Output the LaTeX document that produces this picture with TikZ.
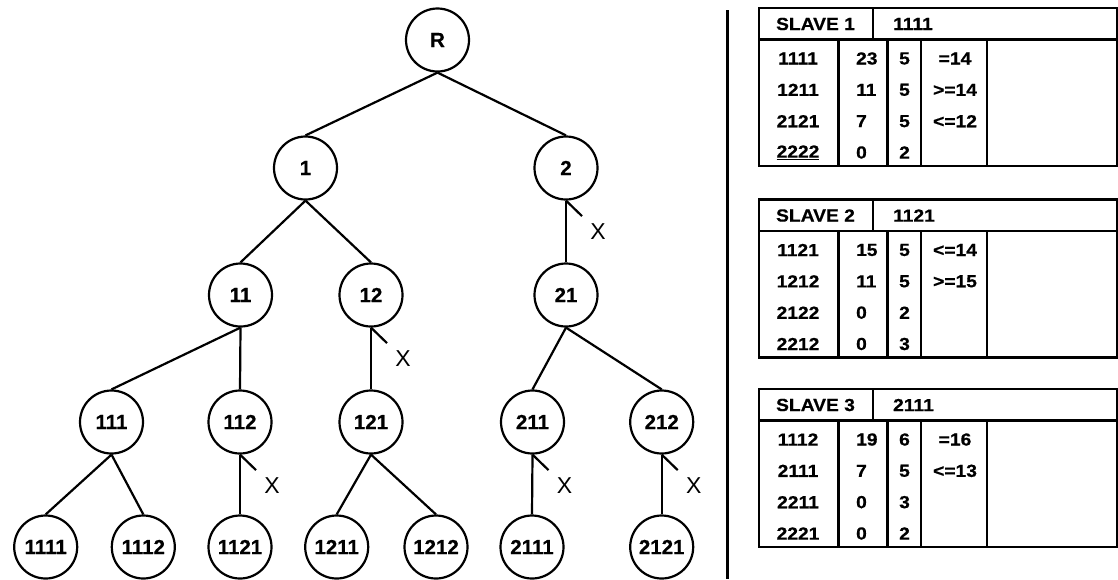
\documentclass[tikz,border=0pt]{standalone}
\usepackage{fontspec}
\setmainfont{Liberation Sans}
\newfontfamily\tabfont[FakeStretch=1.1,FakeBold=0.6]{Liberation Sans}
\newfontfamily\treefont[FakeBold=0.6]{Liberation Sans}

% one SLAVE table: #1 top edge, #2 name prefix, #3 title, #4 header code, #5 rows
\newcommand\slavetab[5]{%
  \begin{scope}[shift={(0,#1)}]
    \draw[frame] (759,0) rectangle (1116.8,158);
    \draw[frame] (759,31.5) -- (1116.8,31.5);
    \draw[frame] (873,0) -- (873,31.5);
    \foreach \cx in {838.5,887.5,921,987} \draw[frame] (\cx,31.5) -- (\cx,158);
    \node[cell] (#2title) at (815.5,16) {#3};
    \node[cell,anchor=west] (#2head) at (892,16) {#4};
    \foreach \c/\a/\b/\d [count=\r] in {#5} {
      \pgfmathsetmacro\ry{19.17+31.33*\r}
      \node[cell] (#2c\r) at (798,\ry) {\c};
      \node[cell,anchor=west] (#2a\r) at (855,\ry) {\a};
      \node[cell] (#2b\r) at (904.5,\ry) {\b};
      \node[cell] (#2d\r) at (955,\ry) {\d};
    }
  \end{scope}}

\begin{document}
\begin{tikzpicture}[x=1pt,y=-1pt,line width=2.2pt,
  vert/.style={circle,draw,minimum size=63pt,inner sep=0pt,
    font=\treefont\bfseries\fontsize{20.5}{20.5}\selectfont},
  link/.style={line width=2.2pt},
  cutmark/.style={line width=2.2pt},
  xmark/.style={inner sep=0pt,font=\fontsize{23}{23}\selectfont},
  cell/.style={inner sep=0pt,font=\tabfont\bfseries\fontsize{17.5}{17.5}\selectfont},
  frame/.style={line width=2.2pt}]
\useasboundingbox (0,0) rectangle (1118,579);

% search tree
\node[vert] (nR) at (437.5,40) {R};
\node[vert] (n1) at (305.5,168) {1};
\node[vert] (n2) at (566,168) {2};
\node[vert] (n11) at (240.5,295) {11};
\node[vert] (n12) at (371,295) {12};
\node[vert] (n21) at (566,295) {21};
\node[vert] (n111) at (111.5,422) {111};
\node[vert] (n112) at (240,422) {112};
\node[vert] (n121) at (371,422) {121};
\node[vert] (n211) at (532.5,422) {211};
\node[vert] (n212) at (661.7,422) {212};
\node[vert] (n1111) at (45.7,547) {1111};
\node[vert] (n1112) at (143.3,547) {1112};
\node[vert] (n1121) at (240,547) {1121};
\node[vert] (n1211) at (336.7,547) {1211};
\node[vert] (n1212) at (436,547) {1212};
\node[vert] (n2111) at (532,547) {2111};
\node[vert] (n2121) at (661.7,547) {2121};

\foreach \p/\c in {nR/n1,nR/n2,n1/n11,n1/n12,n2/n21,n11/n111,n11/n112,
    n12/n121,n21/n211,n21/n212,n111/n1111,n111/n1112,n112/n1121,
    n121/n1211,n121/n1212,n211/n2111,n212/n2121}
  \draw[link] (\p.south) -- (\c.north);

% pruned branches
\foreach \p in {n2,n12,n112,n211,n212}
  \draw[cutmark] (\p.south) -- ++(16,15.5) node[xmark,pos=2] (x\p) {X};

% separator
\draw[frame] (727.5,10) -- (727.5,579);

% slave tables
\slavetab{8}{sa}{SLAVE 1}{1111}{1111/23/5/{=14}, 1211/11/5/{>=14}, 2121/7/5/{<=12}, {\underline{2222}}/0/2/{}}
\slavetab{199.5}{sb}{SLAVE 2}{1121}{1121/15/5/{<=14}, 1212/11/5/{>=15}, 2122/0/2/{}, 2212/0/3/{}}
\slavetab{389}{sc}{SLAVE 3}{2111}{1112/19/6/{=16}, 2111/7/5/{<=13}, 2211/0/3/{}, 2221/0/2/{}}
\end{tikzpicture}
\end{document}
